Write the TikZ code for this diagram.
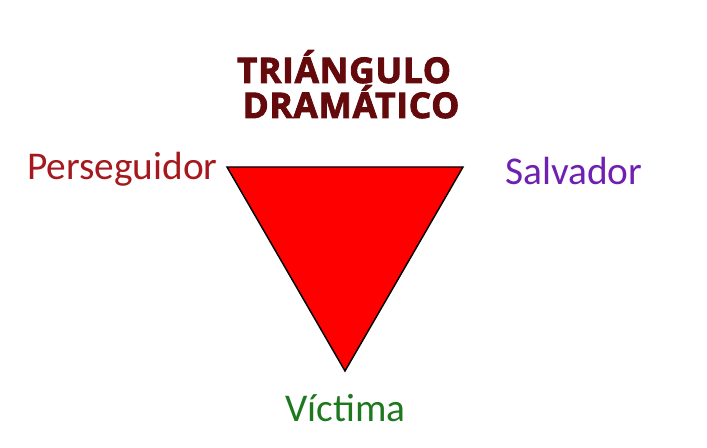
\documentclass[tikz,border=0pt]{standalone}
\usepackage{fontspec}
\setmainfont{Carlito}
\newfontfamily\titlefont[BoldFeatures={FakeBold=2.5},LetterSpace=2]{Open Sans}
\definecolor{tituloRojo}{RGB}{100,10,12}
\definecolor{persegRojo}{RGB}{165,25,30}
\definecolor{salvMorado}{RGB}{112,32,176}
\definecolor{victVerde}{RGB}{30,120,30}

\begin{document}
\begin{tikzpicture}[x=0.75pt,y=0.75pt,yscale=-1,xscale=1,
  rol/.style={inner sep=0pt,anchor=base west,font=\fontsize{29.5}{34}\selectfont},
  titulo/.style={inner sep=0pt,anchor=base,text=tituloRojo,font=\titlefont\bfseries\fontsize{26.5}{30}\selectfont}]
\useasboundingbox (0,0) rectangle (707,448);
%Shape: Triangle
\coordinate (perseg) at (227,167);
\coordinate (salv) at (463,167);
\coordinate (vict) at (345,371);
\draw [fill={rgb, 255:red, 255; green, 0; blue, 0 },line width=1.1pt,line join=miter] (perseg) -- (salv) -- (vict) -- cycle;
%Title
\node (titulo1) [titulo] at (344,83) {TRIÁNGULO};
\node (titulo2) [titulo] at (351,118) {DRAMÁTICO};
%Roles
\node (perseguidor) [rol,text=persegRojo] at (27,180) {Perseguidor};
\node (salvador) [rol,text=salvMorado] at (505,185) {Salvador};
\node (victima) [rol,text=victVerde] at (285,422) {Víctima};
\end{tikzpicture}
\end{document}
